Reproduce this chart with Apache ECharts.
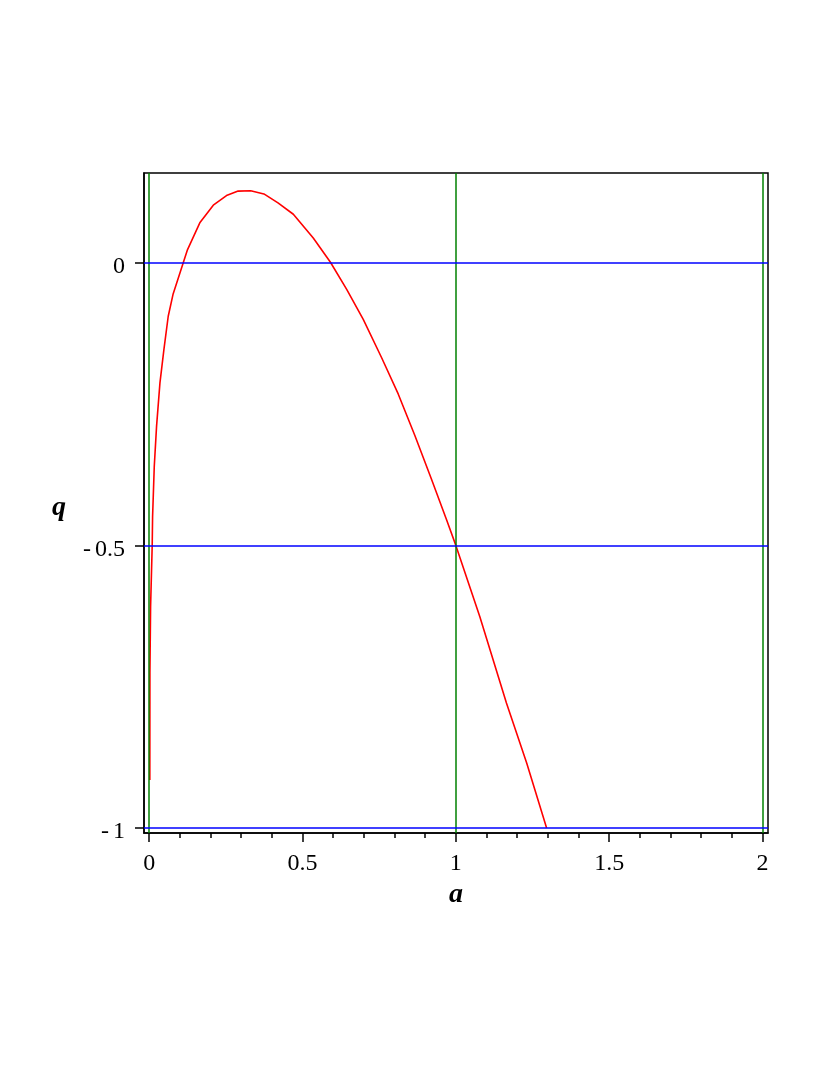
<!DOCTYPE html>
<html>
<head>
<meta charset="utf-8">
<script src="https://cdn.jsdelivr.net/npm/echarts@6/dist/echarts.min.js"></script>
<style>
  html, body { margin: 0; padding: 0; background: #fff; }
  #chart { width: 830px; height: 1075px; }
</style>
</head>
<body>
<div id="chart"></div>
<script>
// curve
var aVals = [0.002, 0.0023, 0.0045, 0.0098, 0.011, 0.0165, 0.024, 0.035, 0.048, 0.062, 0.078,
  0.111, 0.125, 0.165, 0.209, 0.252, 0.290, 0.331, 0.374, 0.420, 0.470, 0.535, 0.591,
  0.644, 0.698, 0.758, 0.812, 0.866, 0.920, 0.970, 1.0, 1.078, 1.165, 1.231, 1.296];
var qVals = [-0.915, -0.726, -0.608, -0.499, -0.449, -0.36, -0.289, -0.2125, -0.153, -0.0945, -0.055,
  0, 0.0235, 0.0708, 0.102, 0.119, 0.127, 0.1275, 0.122, 0.106, 0.086, 0.044, 0.001,
  -0.047, -0.100, -0.168, -0.232, -0.305, -0.382, -0.455, -0.5, -0.626, -0.779, -0.885, -1.0];

var xTicks = [0, 0.5, 1, 1.5, 2];
var xMinorTicks = [0.1, 0.2, 0.3, 0.4, 0.6, 0.7, 0.8, 0.9, 1.1, 1.2, 1.3, 1.4, 1.6, 1.7, 1.8, 1.9];
var yTicks = [0, -0.5, -1];
var hLines = [0, -0.5, -1];   // blue
var vLines = [0, 1, 2];       // green

var font = 'Liberation Serif';
var curve = aVals.map(function (a, i) { return [a, qVals[i]]; });

function fmt(v) {
  return String(v).replace('-', '-\u2006');
}

var chart = echarts.init(document.getElementById('chart'));
chart.setOption({
  backgroundColor: '#fff',
  animation: false,
  grid: {
    left: 144, top: 173, width: 624, height: 660,
    show: true, borderColor: '#000', borderWidth: 1.5, backgroundColor: 'transparent'
  },
  xAxis: [{
    type: 'value', min: -0.017, max: 2.018,
    name: 'a', nameLocation: 'middle', nameGap: 42,
    nameTextStyle: { fontFamily: font, fontSize: 28, fontWeight: 'bold', fontStyle: 'italic', color: '#000' },
    axisLine: { show: true, onZero: false, lineStyle: { color: '#000', width: 1.5 } },
    axisTick: { show: true, length: 9, customValues: xTicks, lineStyle: { color: '#000', width: 1.5 } },
    axisLabel: { customValues: xTicks, margin: 19, fontFamily: font, fontSize: 24, color: '#000', formatter: fmt },
    splitLine: { show: false }
  }, {
    type: 'value', min: -0.017, max: 2.018, position: 'bottom',
    axisLine: { show: false, onZero: false },
    axisTick: { show: true, length: 5, customValues: xMinorTicks, lineStyle: { color: '#000', width: 1.5 } },
    axisLabel: { show: false },
    splitLine: { show: false }
  }],
  yAxis: {
    type: 'value', min: -1.009, max: 0.159,
    name: 'q', nameLocation: 'middle', nameRotate: 0, nameGap: 78,
    nameTextStyle: { fontFamily: font, fontSize: 28, fontWeight: 'bold', fontStyle: 'italic', color: '#000',
      verticalAlign: 'top', lineHeight: 10 },
    axisLine: { show: true, onZero: false, lineStyle: { color: '#000', width: 1.5 } },
    axisTick: { show: true, length: 9, customValues: yTicks, lineStyle: { color: '#000', width: 1.5 } },
    axisLabel: { customValues: yTicks, margin: 19, fontFamily: font, fontSize: 24, color: '#000', formatter: fmt,
      verticalAlign: 'top', lineHeight: 8 },
    splitLine: { show: false }
  },
  series: [{
    type: 'line', data: [], silent: true,
    markLine: {
      silent: true, symbol: 'none', label: { show: false },
      lineStyle: { color: '#008000', width: 1.5, type: 'solid' },
      data: vLines.map(function (v) { return { xAxis: v }; })
    }
  }, {
    type: 'line', data: [], silent: true,
    markLine: {
      silent: true, symbol: 'none', label: { show: false },
      lineStyle: { color: '#0000ff', width: 1.5, type: 'solid' },
      data: hLines.map(function (v) { return { yAxis: v }; })
    }
  }, {
    type: 'line', data: curve, showSymbol: false, smooth: false,
    lineStyle: { color: '#ff0000', width: 1.6 }, silent: true
  }]
});
</script>
</body>
</html>
